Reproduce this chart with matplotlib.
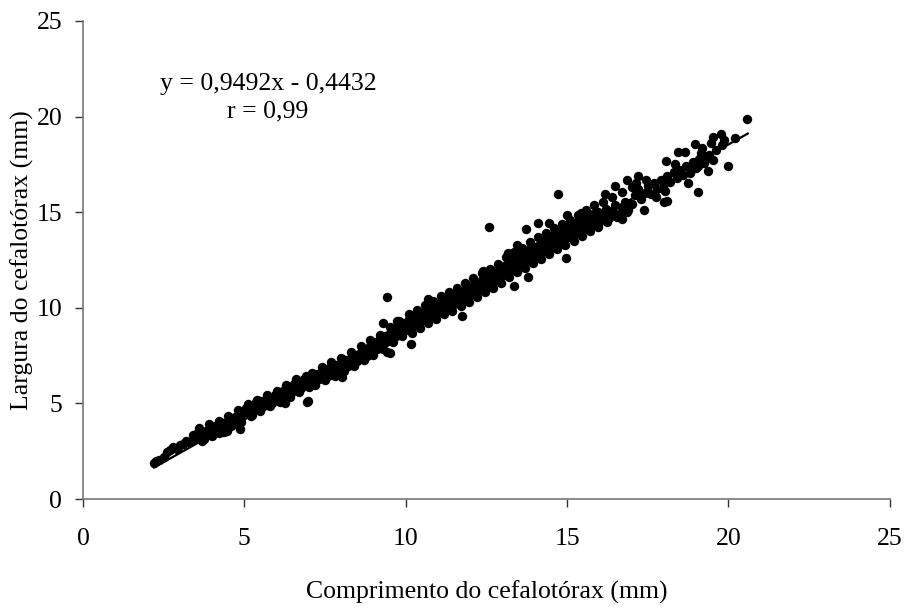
import numpy as np
import matplotlib
matplotlib.use("Agg")
import matplotlib.pyplot as plt

# Data (comprimento x largura do cefalotorax, mm)
comprimento = [
    2.2, 2.25, 2.35, 2.5, 2.6, 2.7, 2.8, 2.9, 3.0, 3.1, 3.2, 3.3, 3.4, 3.45, 3.5,
    3.55, 3.6, 3.65, 3.7, 3.75, 3.8, 3.85, 3.9, 3.95, 4.0, 4.05, 4.1, 4.15, 4.2, 4.25,
    4.3, 4.35, 4.4, 4.45, 4.5, 4.55, 4.6, 4.65, 4.7, 4.75, 4.8, 4.85, 4.9, 4.95, 5.0,
    4.86, 4.37,
    5.05, 5.1, 5.15, 5.2, 5.25, 5.3, 5.35, 5.4, 5.45, 5.5, 5.55, 5.6, 5.65, 5.7, 5.75,
    5.8, 5.85, 5.9, 5.95, 6.0, 6.05, 6.1, 6.15, 6.2, 6.25, 6.3, 6.35, 6.4, 6.45, 6.5,
    6.55, 6.6, 6.65, 6.7, 6.75, 6.8, 6.85, 6.9, 6.95, 7.0,
    6.97, 6.94, 6.26,
    7.05, 7.1, 7.15, 7.2, 7.25, 7.3, 7.35, 7.4, 7.45, 7.5, 7.55, 7.6, 7.65, 7.7, 7.75,
    7.8, 7.85, 7.9, 7.95, 8.0, 8.05, 8.1, 8.15, 8.2, 8.25, 8.3, 8.35, 8.4, 8.45, 8.5,
    8.55, 8.6, 8.65, 8.7, 8.75, 8.8, 8.85, 8.9, 8.95, 9.0, 9.05, 9.1, 9.15, 9.2, 9.25,
    9.3, 9.35, 9.4, 9.45, 9.5, 9.55, 9.6, 9.65, 9.7, 9.75, 9.8, 9.85, 9.9, 9.95, 10.0,
    8.02, 9.51, 9.42, 9.29, 9.73, 9.41,
    10.05, 10.1, 10.15, 10.2, 10.25, 10.3, 10.35, 10.4, 10.45, 10.5, 10.55, 10.6, 10.65,
    10.7, 10.75, 10.8, 10.85, 10.9, 10.95, 11.0, 11.05, 11.1, 11.15, 11.2, 11.25, 11.3,
    11.35, 11.4, 11.45, 11.5, 11.55, 11.6, 11.65, 11.7, 11.75, 11.8, 11.85, 11.9, 11.95,
    12.0, 12.05, 12.1, 12.15, 12.2, 12.25, 12.3, 12.35, 12.4, 12.45, 12.5, 12.55, 12.6,
    12.65, 12.7, 12.75, 12.8, 12.85, 12.9, 12.95, 13.0,
    10.69, 11.74, 12.58, 12.39, 10.16,
    13.05, 13.1, 13.15, 13.2, 13.25, 13.3, 13.35, 13.4, 13.45, 13.5, 13.55, 13.6, 13.65,
    13.7, 13.75, 13.8, 13.85, 13.9, 13.95, 14.0, 14.05, 14.1, 14.15, 14.2, 14.25, 14.3,
    14.35, 14.4, 14.45, 14.5, 14.55, 14.6, 14.65, 14.7, 14.75, 14.8, 14.85, 14.9, 14.95,
    15.0, 15.05, 15.1, 15.15, 15.2, 15.25, 15.3, 15.35, 15.4, 15.45, 15.5, 15.55, 15.6,
    15.65, 15.7, 15.75, 15.8, 15.85, 15.9, 15.95, 16.0, 16.1, 16.2, 16.3, 16.4, 16.5,
    16.6, 16.7, 16.8, 16.9, 17.0,
    13.79, 13.35, 13.17, 13.44, 13.72, 14.1, 14.44, 14.71, 14.99, 15.43, 14.96, 16.7,
    16.17, 16.48, 16.85, 17.19, 17.38,
    17.1, 17.2, 17.3, 17.4, 17.5, 17.6, 17.7, 17.8, 17.9, 18.0, 18.1, 18.2, 18.3, 18.4,
    18.5, 18.6, 18.7, 18.8, 18.9, 19.0, 19.1, 19.25, 19.4, 19.6, 19.8,
    18.0, 18.09, 19.05, 19.98, 19.36, 18.96, 19.18, 19.52, 19.76, 19.86, 20.2, 18.43,
    18.65, 19.45, 19.39, 19.52, 18.06, 18.83, 19.05, 20.59,
    # band edges
    3.6, 3.9, 4.2, 4.5, 4.8, 5.1, 5.4, 5.7, 6.0, 6.3, 6.6, 6.9,
    3.7, 4.0, 4.3, 4.6, 4.9, 5.2, 5.5, 5.8, 6.1, 6.4, 6.7, 7.0,
    7.1, 7.4, 7.7, 8.0, 8.3, 8.6, 8.9, 9.2, 9.5, 9.8,
    7.2, 7.5, 7.8, 8.1, 8.4, 8.7, 9.0, 9.3, 9.6, 9.9,
    10.1, 10.35, 10.6, 10.85, 11.1, 11.35, 11.6, 11.85, 12.1, 12.35, 12.6, 12.85,
    10.2, 10.45, 10.7, 10.95, 11.2, 11.45, 11.7, 11.95, 12.2, 12.45, 12.7, 12.95,
    13.1, 13.35, 13.6, 13.85, 14.1, 14.35, 14.6, 14.85, 15.1, 15.35, 15.6, 15.85,
    16.1, 16.4, 16.7, 17.0,
    13.2, 13.45, 13.7, 13.95, 14.2, 14.45, 14.7, 14.95, 15.2, 15.45, 15.7, 15.95,
    16.25, 16.55, 16.85,
    17.15, 17.45, 17.75, 18.05, 18.35, 18.75, 19.15,
]
largura = [
    1.9, 2.0, 2.05, 2.2, 2.45, 2.55, 2.7, 2.6, 2.8, 2.9, 3.05, 3.0, 3.35, 3.15, 3.4,
    3.2, 3.5, 3.3, 3.45, 3.15, 3.55, 3.35, 3.6, 3.4, 3.7, 3.5, 3.8, 3.6, 3.45, 3.85,
    3.7, 3.95, 3.75, 3.55, 4.05, 3.9, 4.2, 4.0, 4.3, 4.1, 3.85, 4.45, 4.25, 4.55, 4.4,
    3.66, 3.5,
    4.75, 4.5, 4.9, 4.65, 4.4, 4.85, 5.05, 4.7, 4.95, 5.15, 4.8, 5.0, 5.2, 4.9, 5.1,
    5.3, 5.0, 5.25, 5.45, 5.2, 5.4, 5.6, 5.3, 5.5, 5.75, 5.45, 5.65, 5.85, 5.55, 5.8,
    6.0, 5.7, 5.9, 6.1, 5.8, 6.05, 6.25, 5.95, 6.15, 6.35,
    5.13, 5.07, 5.0,
    6.2, 6.45, 6.0, 6.3, 6.55, 6.25, 6.45, 6.7, 6.35, 6.55, 6.8, 6.45, 6.65, 6.9, 6.55,
    6.75, 7.0, 6.7, 6.85, 7.1, 6.75, 7.0, 7.25, 6.95, 7.15, 7.4, 7.05, 7.3, 7.55, 7.2,
    7.45, 7.7, 7.35, 7.6, 7.85, 7.5, 7.75, 8.0, 7.65, 7.95, 8.2, 7.85, 8.1, 8.35, 8.0,
    8.3, 8.55, 8.2, 8.45, 8.7, 8.35, 8.65, 8.9, 8.5, 8.8, 9.05, 8.7, 8.95, 9.2, 8.85,
    6.38, 7.64, 10.56, 9.2, 9.31, 7.7,
    9.1, 9.4, 8.95, 9.25, 9.5, 9.15, 9.4, 9.65, 9.3, 9.55, 9.8, 9.4, 9.7,
    9.95, 9.55, 9.8, 10.05, 9.7, 9.95, 10.2, 9.8, 10.05, 10.3, 9.9, 10.2, 10.45,
    10.05, 10.35, 10.6, 10.2, 10.5, 10.75, 10.35, 10.6, 10.9, 10.5, 10.75, 11.0, 10.6,
    10.9, 11.15, 10.75, 11.05, 11.3, 10.9, 11.2, 11.45, 11.05, 11.35, 11.6, 11.2, 11.5,
    11.75, 11.35, 11.65, 11.9, 11.5, 11.8, 12.05, 11.7,
    10.46, 9.57, 14.23, 11.93, 8.11,
    12.0, 12.25, 11.85, 12.15, 12.45, 12.0, 12.3, 12.6, 12.15, 12.45, 12.75, 12.3, 12.6,
    12.9, 12.45, 12.75, 13.05, 12.6, 12.9, 13.2, 12.75, 13.05, 13.35, 12.9, 13.2, 13.5,
    13.0, 13.3, 13.65, 13.15, 13.45, 13.8, 13.3, 13.6, 13.95, 13.45, 13.75, 14.1, 13.6,
    13.9, 14.25, 13.7, 14.0, 14.35, 13.85, 14.15, 14.5, 14.0, 14.3, 14.6, 14.1, 14.45,
    14.75, 14.25, 14.55, 14.9, 14.4, 14.7, 15.0, 14.5, 14.85, 15.15, 14.7, 15.05, 15.35,
    14.9, 15.25, 15.55, 15.1, 15.45,
    11.61, 11.14, 12.87, 13.28, 14.12, 14.44, 14.44, 15.95, 14.85, 14.96, 12.6, 14.64,
    15.95, 16.37, 16.68, 16.89, 15.12,
    15.9, 16.2, 15.7, 16.0, 16.35, 15.95, 16.5, 16.2, 16.7, 16.45, 16.9, 16.6, 17.1, 16.8,
    17.2, 16.95, 17.4, 17.05, 17.6, 17.3, 17.8, 17.55, 18.0, 18.25, 18.5,
    15.53, 15.58, 16.06, 17.4, 17.16, 18.57, 18.36, 18.93, 19.09, 18.78, 18.9, 18.15,
    18.15, 18.62, 17.89, 17.73, 17.68, 17.21, 17.42, 19.87,
    # band edges
    3.7, 3.9, 4.1, 4.35, 4.65, 4.95, 5.2, 5.45, 5.65, 5.95, 6.25, 6.45,
    3.05, 3.3, 3.5, 3.8, 4.05, 4.35, 4.6, 4.85, 5.05, 5.35, 5.6, 5.85,
    6.6, 6.9, 7.15, 7.35, 7.7, 8.0, 8.3, 8.6, 9.0, 9.3,
    5.95, 6.2, 6.45, 6.7, 6.95, 7.25, 7.55, 7.85, 8.2, 8.5,
    9.7, 9.9, 10.15, 10.35, 10.6, 10.85, 11.05, 11.3, 11.55, 11.8, 12.05, 12.3,
    8.7, 8.95, 9.2, 9.4, 9.65, 9.85, 10.1, 10.3, 10.55, 10.8, 11.05, 11.3,
    12.65, 12.9, 13.15, 13.45, 13.7, 13.9, 14.15, 14.4, 14.6, 14.85, 15.1, 15.35,
    15.55, 15.8, 16.05, 16.3,
    11.6, 11.85, 12.1, 12.35, 12.55, 12.8, 13.05, 13.3, 13.5, 13.75, 14.0, 14.2,
    14.5, 14.75, 15.0,
    16.5, 16.7, 15.8, 16.1, 17.5, 16.5, 18.1,
]

# trend line from the equation shown in the chart
a, b = 0.9492, -0.4432
x_line = np.array([2.2, 20.6])

plt.rcParams['font.family'] = ['Liberation Serif', 'DejaVu Serif']

fig = plt.figure(figsize=(9.07, 6.09), dpi=100)
ax = fig.add_axes([0.0915, 0.1806, 0.8895, 0.785])

ax.scatter(comprimento, largura, s=46, color='black', linewidths=0, zorder=3)
ax.plot(x_line, a * x_line + b, color='black', lw=1.6, zorder=2)

ax.set_xlim(0, 25)
ax.set_ylim(0, 25)
ax.set_xticks([0, 5, 10, 15, 20, 25])
ax.set_yticks([0, 5, 10, 15, 20, 25])
ax.spines['top'].set_visible(False)
ax.spines['right'].set_visible(False)
for s in ['left', 'bottom']:
    ax.spines[s].set_color('#777777')
    ax.spines[s].set_linewidth(1.2)
ax.tick_params(direction='out', length=6, width=1, color='#333333', labelsize=18.5)
ax.tick_params(axis='x', pad=15)
ax.tick_params(axis='y', pad=9)

ax.set_xlabel('Comprimento do cefalotórax (mm)', fontsize=18.5, labelpad=22)
ax.set_ylabel('Largura do cefalotórax (mm)', fontsize=18.5, labelpad=2)

ax.text(5.73, 20.97, 'y = 0,9492x - 0,4432\nr = 0,99', ha='center', va='center',
        fontsize=18.5, linespacing=1.3)

fig.savefig('out.png', dpi=100)
